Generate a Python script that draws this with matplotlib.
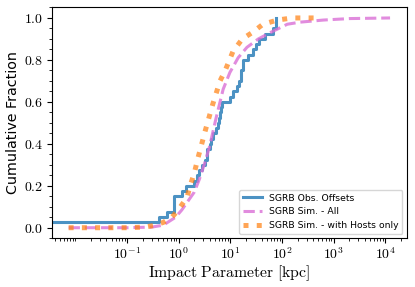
import numpy as np
import matplotlib
matplotlib.use('Agg')
import matplotlib.pyplot as plt
from matplotlib.ticker import FixedLocator, LogLocator, FuncFormatter, AutoMinorLocator, NullFormatter

plt.rcParams['mathtext.fontset'] = 'cm'

# observed short GRB offsets [kpc]
obs_offsets = [0.003, 0.41, 0.60, 0.80, 0.81, 0.82, 1.17, 1.41, 1.95, 2.23,
               2.51, 2.81, 3.16, 3.52, 3.56, 3.98, 4.26, 4.67, 5.37, 5.70,
               6.00, 6.30, 6.50, 6.90, 9.97, 11.2, 13.4, 14.8, 16.1, 16.3,
               17.8, 17.9, 22.3, 26.9, 30.8, 35.3, 46.6, 65.8, 77.0, 77.5]

# simulated CDF - all
sim_all_r = [0.0074, 0.1, 0.3, 0.5, 0.87, 1.15, 1.70, 2.0, 2.5, 3.2, 3.98,
             5.25, 7.24, 9.77, 14.1, 20.9, 34.7, 58.9, 126, 224, 631, 2000, 12300]
sim_all_cdf = [0.0, 0.0, 0.003, 0.012, 0.05, 0.085, 0.145, 0.17, 0.23, 0.31, 0.39,
               0.52, 0.66, 0.74, 0.81, 0.86, 0.90, 0.93, 0.97, 0.98, 0.99, 0.997, 1.0]

# simulated CDF - with hosts only
sim_host_r = [0.0074, 0.1, 0.22, 0.32, 0.5, 0.74, 0.98, 1.45, 1.66, 2.0, 2.34,
              2.69, 3.24, 4.57, 6.31, 7.94, 11.2, 17.0, 26.3, 42.7, 81.3, 158, 550]
sim_host_cdf = [0.0, 0.0, 0.003, 0.01, 0.025, 0.05, 0.085, 0.145, 0.2, 0.26, 0.33,
                0.385, 0.46, 0.59, 0.70, 0.75, 0.84, 0.90, 0.93, 0.97, 0.99, 1.0, 1.0]

labels = ['SGRB Obs. Offsets', 'SGRB Sim. - All', 'SGRB Sim. - with Hosts only']

x_obs = np.sort(obs_offsets)
y_obs = np.arange(1, len(x_obs) + 1) / len(x_obs)

fig, ax = plt.subplots(figsize=(4.15, 2.87), dpi=100)
fig.subplots_adjust(left=0.125, right=0.981, bottom=0.170, top=0.974)

ax.plot(x_obs, y_obs, drawstyle='steps-post', color='C0', alpha=0.8, lw=2.2, label=labels[0])
ax.plot(sim_all_r, sim_all_cdf, ls='--', color='orchid', alpha=0.8, lw=2.2, label=labels[1])
ax.plot(sim_host_r, sim_host_cdf, ls=':', color='C1', alpha=0.7, lw=3.6, label=labels[2])

ax.set_xscale('log')
ax.set_xlim(10**-2.455, 10**4.42)
ax.set_ylim(-0.05, 1.05)

ax.xaxis.set_major_locator(FixedLocator([1e-1, 1e0, 1e1, 1e2, 1e3, 1e4]))
ax.xaxis.set_minor_locator(LogLocator(base=10, subs=np.arange(1, 10), numticks=30))
ax.xaxis.set_major_formatter(FuncFormatter(lambda v, p: r'$10^{%d}$' % round(np.log10(v))))
ax.xaxis.set_minor_formatter(NullFormatter())
ax.yaxis.set_minor_locator(AutoMinorLocator(4))
ax.yaxis.set_major_formatter(FuncFormatter(lambda v, p: r'$%.1f$' % v))
ax.tick_params(which='major', length=3.5, labelsize=10, pad=2.5)
ax.tick_params(which='minor', length=2)

ax.set_xlabel(r'$\mathrm{Impact\ Parameter\ [kpc]}$', fontsize=11.3, labelpad=1)
ax.set_ylabel('Cumulative Fraction', fontsize=10.3, labelpad=3)

ax.legend(loc='lower right', fontsize=6.7)

fig.savefig('out.png', dpi=100)
